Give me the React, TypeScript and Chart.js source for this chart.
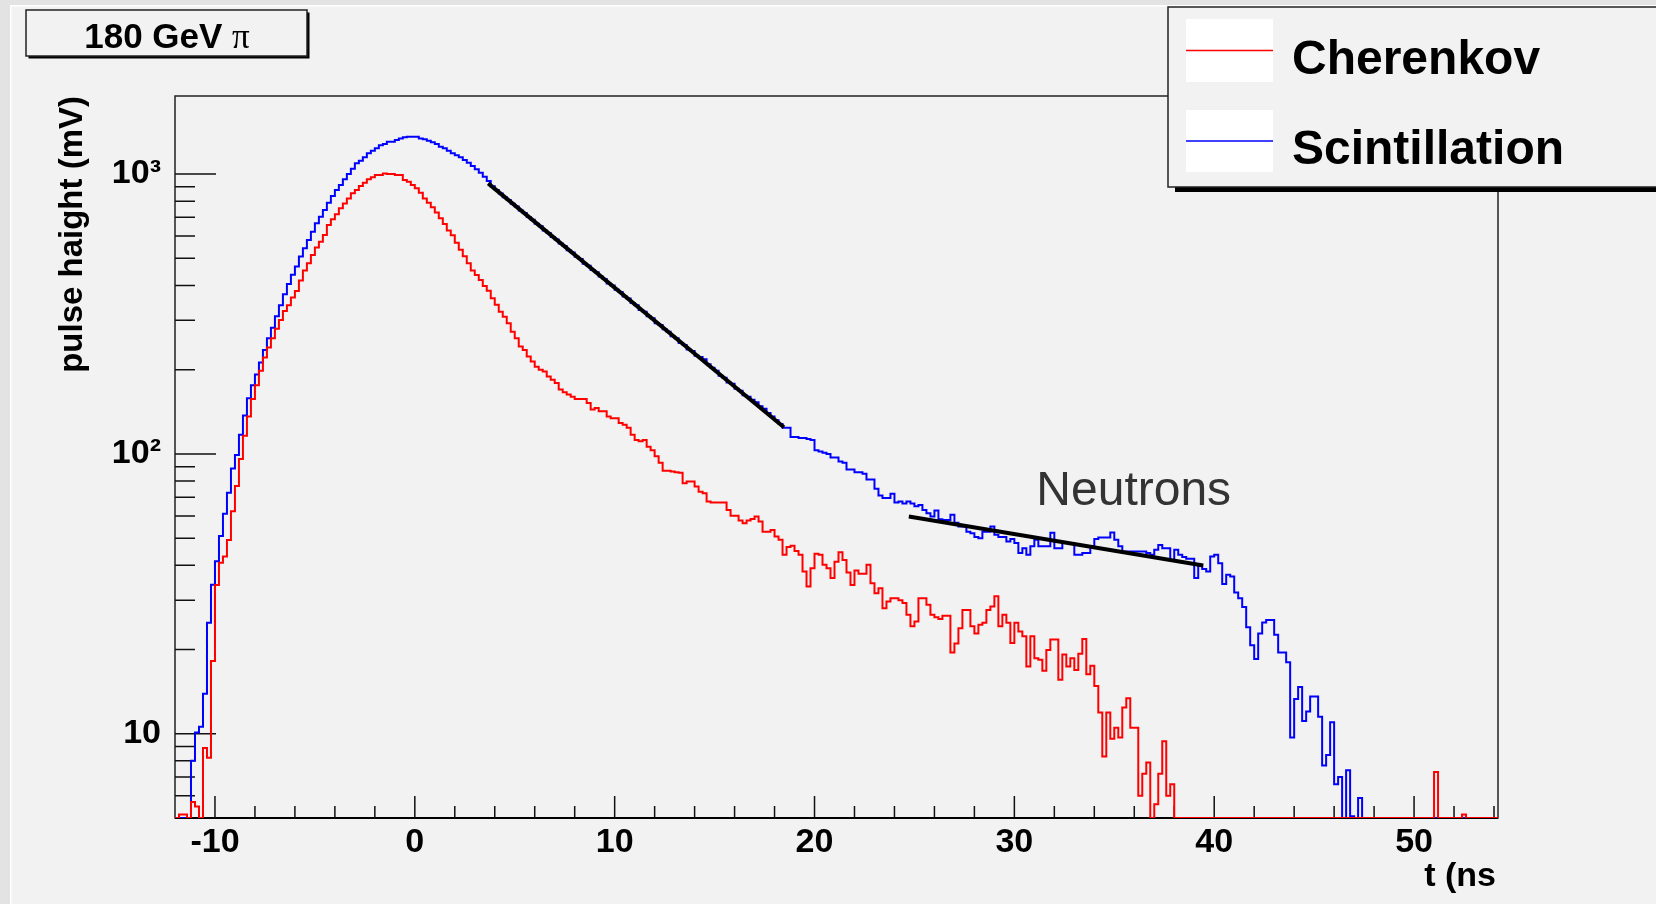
import { useEffect, useRef } from "react";
import { Chart, registerables } from "chart.js";

Chart.register(...registerables);

// ---------------- data ----------------
const BIN_START = -12; // ns, left edge of first bin
const BIN_WIDTH = 0.2; // ns
const X_MIN = -12;
const X_MAX = 54.2;
const Y_MIN = 5;
const Y_MAX = 1900;

// Scintillation signal (mV) per 0.2 ns bin, starting at -12 ns (0 = below axis)
const SCINT = [
  0, 0, 0, 0, 8.0, 10.1, 10.6, 13.9, 24.9, 34.1,
  41.3, 50.9, 61.1, 72.6, 88.7, 99.1, 117, 137, 158, 176,
  192, 212, 235, 259, 282, 310, 340, 372, 405, 437,
  467, 507, 543, 581, 622, 667, 704, 743, 790, 834,
  877, 914, 957, 1000, 1045, 1092, 1116, 1147, 1187, 1211,
  1236, 1266, 1280, 1304, 1304, 1322, 1340, 1352, 1359, 1359,
  1359, 1340, 1330, 1315, 1298, 1280, 1252, 1236, 1211, 1187,
  1166, 1147, 1122, 1098, 1068, 1040, 1010, 978, 945, 905,
  876, 852, 826, 808, 783, 766, 741, 725, 702, 687,
  664, 650, 628, 616, 596, 584, 565, 553, 534, 524,
  506, 497, 478, 470, 454, 446, 430, 422, 406, 400,
  386, 379, 365, 359, 346, 340, 327, 322, 310, 305,
  293, 289, 279, 273, 263, 259, 249, 245, 236, 233,
  224, 222, 218, 209, 203, 198, 190, 187, 180, 178,
  171, 168, 162, 160, 156, 153, 148, 145, 140, 136,
  132, 128, 124, 124, 115, 115, 114, 114, 113, 112,
  103, 102, 101, 100, 97, 97, 94, 93, 88, 88,
  86, 86, 85, 81, 81, 75, 71, 69.5, 69.5, 72,
  67, 67.6, 66.5, 67.6, 66.5, 65, 65.7, 63, 61.4, 59.7,
  62.7, 58.4, 58, 58, 60.6, 56.8, 55, 55, 52.7, 52.1,
  50.5, 50, 52.7, 52.7, 55, 51.4, 50.5, 50.5, 48.6, 49.6,
  48, 44.2, 46, 43.6, 46.8, 49.3, 46.8, 46.8, 46.8, 52.3,
  46, 46, 48, 48, 48, 43.6, 43.6, 44.2, 44.2, 46.9,
  49.6, 50.3, 50.3, 50.3, 52.4, 49.3, 46.8, 44.8, 44.8, 44.8,
  44.8, 44.8, 44.8, 44.2, 43.6, 45.4, 47.3, 46, 46, 41.8,
  45.4, 43.6, 42.8, 42.2, 42.2, 36, 39.8, 38.8, 38, 43,
  43.6, 40.7, 34.3, 37, 36.5, 32, 30.5, 28.4, 24, 20.7,
  18.5, 22.8, 25, 25.5, 25.5, 22.6, 19.5, 19.5, 18, 9.7,
  13.3, 14.7, 11.1, 12, 13.6, 13.6, 11.5, 7.7, 8.4, 11,
  6.6, 7.0, 0, 7.4, 5.07, 0, 5.9, 0, 0, 0,
  0, 0, 0, 0, 0, 0, 0, 0, 0, 0,
  0, 0, 0, 0, 0, 0, 0, 0, 0, 0,
  0, 0, 0, 0, 0, 0, 0, 0, 0, 0,
  0,
];

// Cherenkov signal (mV) per 0.2 ns bin, starting at -12 ns (0 = below axis)
const CHER = [
  0, 5.15, 5.15, 0, 5.7, 5.5, 0, 8.9, 8.2, 18.2,
  34, 40.8, 43, 49.2, 62.4, 76.8, 95.9, 116, 136, 157,
  176, 198, 221, 240, 259, 280, 301, 324, 340, 362,
  382, 416, 452, 480, 514, 546, 573, 605, 657, 689,
  718, 754, 785, 818, 853, 877, 906, 931, 957, 973,
  992, 992, 1005, 1000, 1000, 992, 992, 952, 939, 914,
  889, 858, 818, 790, 761, 728, 695, 663, 628, 604,
  568, 536, 508, 480, 452, 436, 418, 398, 383, 360,
  341, 322, 309, 293, 273, 259, 242, 235, 223, 214,
  205, 200, 197, 189, 184, 179, 170, 166, 163, 160,
  157, 157, 157, 152, 144, 146, 142, 142, 136, 134,
  134, 129, 127, 124, 117, 112, 111, 112, 106, 103,
  98, 93, 87, 87, 86.5, 86, 85.6, 78.5, 79.6, 79.6,
  76.4, 73.3, 72.4, 67.6, 67, 67, 67, 67, 63, 60.1,
  60.1, 57.8, 56.5, 57.8, 58.5, 59.7, 57.3, 52.7, 52.7, 53.5,
  50.7, 49.3, 43.6, 46.5, 47, 45, 43.6, 38, 33.6, 39,
  44, 43.6, 40.2, 39, 36, 41.2, 44.5, 41.8, 37.7, 34,
  38.3, 37.3, 37.3, 40.2, 34.5, 31.8, 33.1, 28.1, 29.7, 30.5,
  30.5, 30, 29.3, 26.6, 24.2, 25.2, 30.5, 30.5, 28.9, 26.6,
  26.1, 25.7, 26.4, 26.4, 19.5, 21, 23.8, 27.7, 27.7, 24.2,
  22.8, 24.5, 24.9, 27.7, 28.5, 31, 24.2, 26.6, 24.9, 21.1,
  24.9, 23.2, 22.3, 17.4, 22.3, 18.6, 18.4, 16.8, 19.9, 21.7,
  21.7, 15.6, 19.2, 17.4, 18.6, 16.9, 19.3, 21.8, 16.3, 17.5,
  14.8, 11.9, 8.3, 11.9, 9.6, 10.5, 9.7, 12.4, 13.4, 10.5,
  10.5, 6.0, 7.2, 7.9, 0, 5.6, 7.2, 9.4, 6.0, 6.6,
  0, 0, 0, 0, 0, 0, 0, 0, 0, 0,
  0, 0, 0, 0, 0, 0, 0, 0, 0, 0,
  0, 0, 0, 0, 0, 0, 0, 0, 0, 0,
  0, 0, 0, 0, 0, 0, 0, 0, 0, 0,
  0, 0, 0, 0, 0, 0, 0, 0, 0, 0,
  0, 0, 0, 0, 0, 0, 0, 0, 0, 0,
  0, 0, 0, 0, 0, 7.3, 0, 0, 0, 0,
  0, 0, 5.15, 0, 0, 0, 0, 0, 0, 0,
  0,
];

// exponential fits (end points: time in ns, value in mV)
const FIT_FAST_T = [3.67, 18.47];
const FIT_FAST_V = [926, 124.5];
const FIT_NEUTRON_T = [24.72, 39.45];
const FIT_NEUTRON_V = [59.7, 39.9];

const X_TICKS = [-10, 0, 10, 20, 30, 40, 50];
const X_MINOR = [-8, -6, -4, -2, 2, 4, 6, 8, 12, 14, 16, 18, 22, 24, 26, 28, 32, 34, 36, 38, 42, 44, 46, 48, 52, 54];
const Y_TICKS = [10, 100, 1000];
const Y_TICK_LABELS = ["10", "10\u00B2", "10\u00B3"];
const Y_MINOR = [6, 7, 8, 9, 20, 30, 40, 50, 60, 70, 80, 90, 200, 300, 400, 500, 600, 700, 800, 900];

const SERIES_NAMES = ["Cherenkov", "Scintillation"];
const TITLE_TEXT = "180 GeV ";
const TITLE_SYMBOL = "\u03C0";
const X_TITLE = "t (ns";
const Y_TITLE = "pulse haight (mV)";
const NEUTRON_LABEL = "Neutrons";
const NEUTRON_LABEL_AT = { t: 31.1, v: 65.8 };

// ---------------- styling ----------------
const BG = "#f2f2f2";
const SANS = "'Liberation Sans', Arial, Helvetica, sans-serif";
const SERIF = "'Liberation Serif', 'DejaVu Serif', serif";
const RED = "#ff0000";
const BLUE = "#0000ff";

function histPoints(vals: number[]) {
  const pts = vals.map((v, i) => ({ x: BIN_START + BIN_WIDTH * i, y: Math.max(v, Y_MIN) }));
  pts.push({ x: BIN_START + BIN_WIDTH * vals.length, y: Math.max(vals[vals.length - 1], Y_MIN) });
  return pts;
}

function linePoints(ts: number[], vs: number[]) {
  return ts.map((t, i) => ({ x: t, y: vs[i] }));
}

const decorPlugin = {
  id: "rootDecor",
  beforeDraw(chart: any) {
    const { ctx, width, height } = chart;
    ctx.save();
    ctx.fillStyle = BG;
    ctx.fillRect(0, 0, width, height);
    ctx.fillStyle = "#e3e3e3";
    ctx.fillRect(0, 0, width, 5);
    ctx.fillRect(0, 0, 10, height);
    ctx.fillStyle = "#ffffff";
    ctx.fillRect(10, 5, width - 10, 1.5);
    ctx.fillRect(10, 5, 1.5, height - 5);
    ctx.restore();
  },
  beforeDatasetsDraw(chart: any) {
    const { ctx, chartArea } = chart;
    const { left, right, top, bottom } = chartArea;
    const xs = chart.scales.x;
    const ys = chart.scales.y;
    ctx.save();
    // frame
    ctx.strokeStyle = "#222";
    ctx.lineWidth = 1.5;
    ctx.strokeRect(left, top, right - left, bottom - top);
    ctx.strokeStyle = "#000";
    ctx.lineWidth = 2;
    ctx.beginPath();
    ctx.moveTo(left, bottom);
    ctx.lineTo(right, bottom);
    ctx.stroke();
    // ticks (drawn inside the frame)
    ctx.strokeStyle = "#111";
    ctx.lineWidth = 1.5;
    ctx.beginPath();
    X_TICKS.forEach((v) => {
      const px = xs.getPixelForValue(v);
      ctx.moveTo(px, bottom);
      ctx.lineTo(px, bottom - 22);
    });
    X_MINOR.forEach((v) => {
      const px = xs.getPixelForValue(v);
      ctx.moveTo(px, bottom);
      ctx.lineTo(px, bottom - 12);
    });
    Y_TICKS.forEach((v) => {
      const py = ys.getPixelForValue(v);
      ctx.moveTo(left, py);
      ctx.lineTo(left + 41, py);
    });
    Y_MINOR.forEach((v) => {
      const py = ys.getPixelForValue(v);
      ctx.moveTo(left, py);
      ctx.lineTo(left + 20, py);
    });
    ctx.stroke();
    ctx.restore();
  },
  afterDraw(chart: any) {
    const { ctx, chartArea } = chart;
    const xs = chart.scales.x;
    const ys = chart.scales.y;
    ctx.save();

    // axis titles
    ctx.fillStyle = "#000";
    ctx.font = `bold 34px ${SANS}`;
    ctx.textAlign = "right";
    ctx.textBaseline = "alphabetic";
    ctx.fillText(X_TITLE, chartArea.right - 2, 886);

    ctx.save();
    ctx.translate(82, chartArea.top);
    ctx.rotate(-Math.PI / 2);
    ctx.font = `bold 33px ${SANS}`;
    ctx.textAlign = "right";
    ctx.textBaseline = "alphabetic";
    ctx.fillText(Y_TITLE, 0, 0);
    ctx.restore();

    // annotation
    ctx.fillStyle = "#333";
    ctx.font = `48px ${SANS}`;
    ctx.textAlign = "left";
    ctx.textBaseline = "alphabetic";
    ctx.fillText(NEUTRON_LABEL, xs.getPixelForValue(NEUTRON_LABEL_AT.t), ys.getPixelForValue(NEUTRON_LABEL_AT.v));

    // title box
    ctx.fillStyle = "#000";
    ctx.fillRect(28.5, 12.5, 281, 46);
    ctx.fillStyle = BG;
    ctx.fillRect(26, 10, 281, 46);
    ctx.strokeStyle = "#222";
    ctx.lineWidth = 1.5;
    ctx.strokeRect(26, 10, 281, 46);
    ctx.fillStyle = "#000";
    ctx.font = `bold 35px ${SANS}`;
    const w1 = ctx.measureText(TITLE_TEXT).width;
    ctx.font = `35px ${SERIF}`;
    const w2 = ctx.measureText(TITLE_SYMBOL).width;
    const tx = 167 - (w1 + w2) / 2;
    ctx.textAlign = "left";
    ctx.font = `bold 35px ${SANS}`;
    ctx.fillText(TITLE_TEXT, tx, 48);
    ctx.font = `35px ${SERIF}`;
    ctx.fillText(TITLE_SYMBOL, tx + w1, 48);

    // legend
    const lx = 1168;
    const ly = 7;
    const lw = 600;
    const lh = 180;
    ctx.fillStyle = "#000";
    ctx.fillRect(lx + 7, ly + lh, lw, 5);
    ctx.fillStyle = BG;
    ctx.fillRect(lx, ly, lw, lh);
    ctx.strokeStyle = "#222";
    ctx.lineWidth = 1.5;
    ctx.strokeRect(lx, ly, lw, lh);
    const ds = chart.data.datasets;
    const entries = [ds[2], ds[3]];
    entries.forEach((d: any, k: number) => {
      const by = k === 0 ? 19 : 110;
      const bh = k === 0 ? 63 : 62;
      ctx.fillStyle = "#ffffff";
      ctx.fillRect(1186, by, 87, bh);
      const yl = by + bh / 2;
      ctx.strokeStyle = d.borderColor;
      ctx.lineWidth = 1.5;
      ctx.beginPath();
      ctx.moveTo(1186, yl);
      ctx.lineTo(1273, yl);
      ctx.stroke();
      ctx.fillStyle = "#000";
      ctx.font = `bold 48px ${SANS}`;
      ctx.textAlign = "left";
      ctx.textBaseline = "alphabetic";
      ctx.fillText(d.label, 1292, k === 0 ? 74 : 164);
    });

    ctx.restore();
  },
};

export default function App() {
  const ref = useRef<HTMLCanvasElement>(null);

  useEffect(() => {
    const canvas = ref.current;
    if (!canvas) return;
    const chart = new Chart(canvas, {
      type: "line",
      data: {
        datasets: [
          {
            label: "fit (prompt)",
            data: linePoints(FIT_FAST_T, FIT_FAST_V),
            borderColor: "#000",
            borderWidth: 4,
            pointRadius: 0,
            order: 0,
          },
          {
            label: "fit (neutrons)",
            data: linePoints(FIT_NEUTRON_T, FIT_NEUTRON_V),
            borderColor: "#000",
            borderWidth: 4,
            pointRadius: 0,
            order: 0,
          },
          {
            label: SERIES_NAMES[0],
            data: histPoints(CHER),
            borderColor: RED,
            borderWidth: 2,
            pointRadius: 0,
            stepped: "before",
            order: 1,
          },
          {
            label: SERIES_NAMES[1],
            data: histPoints(SCINT),
            borderColor: BLUE,
            borderWidth: 2,
            pointRadius: 0,
            stepped: "before",
            order: 2,
          },
        ],
      } as any,
      options: {
        animation: false,
        responsive: false,
        devicePixelRatio: 1,
        events: [],
        layout: { padding: { left: 0, top: 96, right: 158, bottom: 0 } },
        plugins: {
          legend: { display: false },
          tooltip: { enabled: false },
          title: { display: false },
        },
        scales: {
          x: {
            type: "linear",
            min: X_MIN,
            max: X_MAX,
            grid: { display: false, drawTicks: false },
            border: { display: false },
            ticks: {
              color: "#000",
              font: { family: SANS, size: 34, weight: "bold" },
              padding: 4,
              autoSkip: false,
              maxRotation: 0,
              includeBounds: false,
              callback: (v: any) => String(v),
            },
            afterBuildTicks: (s: any) => {
              s.ticks = X_TICKS.map((v) => ({ value: v }));
            },
            afterFit: (s: any) => {
              s.height = 86;
            },
          },
          y: {
            type: "logarithmic",
            min: Y_MIN,
            max: Y_MAX,
            grid: { display: false, drawTicks: false },
            border: { display: false },
            ticks: {
              color: "#000",
              font: { family: SANS, size: 34, weight: "bold" },
              padding: 14,
              autoSkip: false,
              callback: (v: any) => {
                const k = Y_TICKS.indexOf(Number(v));
                return k >= 0 ? Y_TICK_LABELS[k] : "";
              },
            },
            afterBuildTicks: (s: any) => {
              s.ticks = Y_TICKS.map((v) => ({ value: v }));
            },
            afterFit: (s: any) => {
              s.width = 175;
            },
          },
        },
      } as any,
      plugins: [decorPlugin],
    });
    let alive = true;
    if ((document as any).fonts && (document as any).fonts.ready) {
      (document as any).fonts.ready.then(() => {
        if (alive) chart.update();
      });
    }
    return () => {
      alive = false;
      chart.destroy();
    };
  }, []);

  return (
    <div style={{ position: "fixed", left: 0, top: 0, width: 1656, height: 904, background: BG, overflow: "hidden" }}>
      <canvas ref={ref} width={1656} height={904} style={{ display: "block", width: 1656, height: 904 }} />
    </div>
  );
}
